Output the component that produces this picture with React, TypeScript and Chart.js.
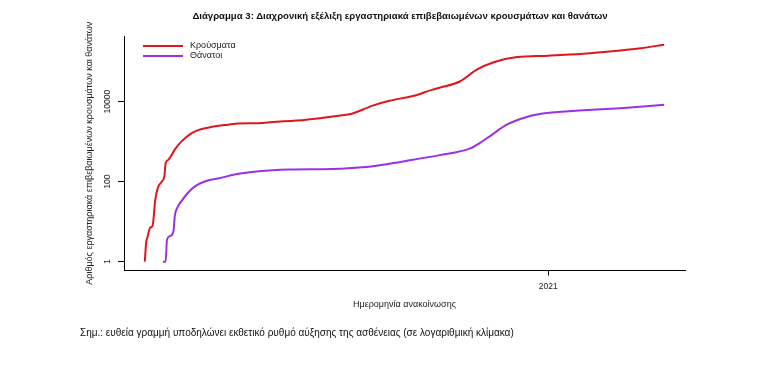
import React, { useEffect, useRef } from 'react';
import { Chart, registerables } from 'chart.js';

Chart.register(...registerables);

// Days counted from 2020-01-01 (day 0); 2021-01-01 = day 366
const caseDays = [56, 57, 58, 60, 62, 64, 66, 69, 71, 72, 74, 79, 84, 92, 98, 107, 120, 128, 143, 154, 180, 205, 215, 231, 244, 262, 277, 283, 298, 311, 324, 342, 366, 393, 419, 437, 455];
const caseValues = [1, 3, 4, 7, 8, 35, 70, 100, 135, 290, 350, 630, 1000, 1640, 2000, 2330, 2660, 2840, 2900, 3080, 3550, 4470, 5000, 7940, 10500, 13800, 19950, 22600, 31900, 63100, 97000, 130000, 141000, 158000, 188000, 217000, 266000];

const deathDays = [70, 72, 73, 75, 78, 79, 81.5, 85, 89, 94.5, 102, 114, 125, 143.5, 167, 200, 223, 239, 262, 282.5, 306, 313.5, 321, 334, 349.5, 365, 393, 421.5, 455];
const deathValues = [1, 1, 3.5, 4.3, 5.7, 13.6, 24, 35.5, 52, 76, 101, 123, 150, 181, 200, 207, 228, 266, 354, 460, 680, 930, 1360, 2660, 4150, 5190, 6060, 6880, 8370];

const seriesLabels = ['Κρούσματα', 'Θάνατοι'];
const yTickValues = [1, 100, 10000];
const yTickLabels = ['1', '100', '10000'];
const xTickValues = [366];
const xTickLabels = ['2021'];

const titleText = 'Διάγραμμα 3: Διαχρονική εξέλιξη εργαστηριακά επιβεβαιωμένων κρουσμάτων και θανάτων';
const xAxisTitle = 'Ημερομηνία ανακοίνωσης';
const yAxisTitle = 'Αριθμός εργαστηριακά επιβεβαιωμένων κρουσμάτων και θανάτων';
const noteText = 'Σημ.: ευθεία γραμμή υποδηλώνει εκθετικό ρυθμό αύξησης της ασθένειας (σε λογαριθμική κλίμακα)';

const RED = '#E0161C';
const PURPLE = '#9B30E6';
const CHART_FONT = '"Liberation Sans", Arial, sans-serif';

const overlayPlugin = {
  id: 'overlay',
  afterDraw(chart: any) {
    const ctx = chart.ctx;
    const ys = chart.scales.y;
    ctx.save();
    ctx.fillStyle = '#222';
    ctx.font = `8.5px ${CHART_FONT}`;
    ctx.textAlign = 'center';
    ctx.textBaseline = 'middle';
    yTickValues.forEach((v, i) => {
      const y = ys.getPixelForValue(v);
      ctx.save();
      ctx.translate(108, y);
      ctx.rotate(-Math.PI / 2);
      ctx.fillText(yTickLabels[i], 0, 0);
      ctx.restore();
    });
    // legend
    const rows = [46, 56];
    ctx.font = `9px ${CHART_FONT}`;
    ctx.textAlign = 'left';
    chart.data.datasets.forEach((d: any, i: number) => {
      ctx.strokeStyle = d.borderColor;
      ctx.lineWidth = 2;
      ctx.beginPath();
      ctx.moveTo(143, rows[i]);
      ctx.lineTo(183, rows[i]);
      ctx.stroke();
      ctx.fillStyle = '#222';
      ctx.fillText(d.label, 190, rows[i]);
    });
    ctx.restore();
  },
};

export default function App() {
  const canvasRef = useRef<HTMLCanvasElement | null>(null);

  useEffect(() => {
    if (!canvasRef.current) return;
    const chart = new Chart(canvasRef.current, {
      type: 'line',
      data: {
        datasets: [
          {
            label: seriesLabels[0],
            data: caseDays.map((d, i) => ({ x: d, y: caseValues[i] })),
            borderColor: RED,
            backgroundColor: RED,
            borderWidth: 2,
            pointRadius: 0,
            cubicInterpolationMode: 'monotone',
            fill: false,
          },
          {
            label: seriesLabels[1],
            data: deathDays.map((d, i) => ({ x: d, y: deathValues[i] })),
            borderColor: PURPLE,
            backgroundColor: PURPLE,
            borderWidth: 2,
            pointRadius: 0,
            cubicInterpolationMode: 'monotone',
            fill: false,
          },
        ],
      },
      options: {
        responsive: false,
        animation: false,
        devicePixelRatio: 1,
        layout: { padding: { top: 36, left: 0, right: 87, bottom: 0 } },
        plugins: {
          legend: { display: false },
          tooltip: { enabled: false },
          title: { display: false },
        },
        scales: {
          x: {
            type: 'linear',
            min: 40,
            max: 471,
            afterBuildTicks: (s: any) => {
              s.ticks = xTickValues.map((v) => ({ value: v }));
            },
            afterFit: (s: any) => {
              s.height = 101.5;
            },
            ticks: {
              autoSkip: false,
              maxRotation: 0,
              padding: 6,
              color: '#222',
              font: { family: CHART_FONT, size: 8.5 },
              callback: (v: any) => {
                const idx = xTickValues.indexOf(Number(v));
                return idx >= 0 ? xTickLabels[idx] : '';
              },
            },
            grid: {
              display: true,
              drawOnChartArea: false,
              drawTicks: true,
              tickLength: 5,
              color: '#000',
              lineWidth: 1,
            },
            border: { display: true, color: '#000', width: 1 },
            title: {
              display: true,
              text: xAxisTitle,
              color: '#222',
              font: { family: CHART_FONT, size: 9 },
              padding: { top: 0, bottom: 62 },
            },
          },
          y: {
            type: 'logarithmic',
            min: 0.607,
            max: 438000,
            afterBuildTicks: (s: any) => {
              s.ticks = yTickValues.map((v) => ({ value: v }));
            },
            afterFit: (s: any) => {
              s.width = 124;
            },
            ticks: { display: false },
            grid: {
              display: true,
              drawOnChartArea: false,
              drawTicks: true,
              tickLength: 6,
              color: '#000',
              lineWidth: 1,
            },
            border: { display: true, color: '#000', width: 1 },
            title: {
              display: true,
              text: yAxisTitle,
              color: '#222',
              font: { family: CHART_FONT, size: 9 },
              padding: { top: 84, bottom: 0 },
            },
          },
        },
      },
      plugins: [overlayPlugin],
    } as any);
    return () => chart.destroy();
  }, []);

  return (
    <div
      style={{
        position: 'absolute',
        left: 0,
        top: 0,
        width: 772,
        height: 372,
        overflow: 'hidden',
        background: '#fff',
      }}
    >
      <canvas
        ref={canvasRef}
        width={772}
        height={372}
        style={{ position: 'absolute', left: 0, top: 0, width: 772, height: 372 }}
      />
      <div
        style={{
          position: 'absolute',
          left: 100,
          top: 10,
          width: 600,
          textAlign: 'center',
          fontFamily: CHART_FONT,
          fontWeight: 'bold',
          fontSize: 9.6,
          color: '#111',
          whiteSpace: 'nowrap',
        }}
      >
        {titleText}
      </div>
      <div
        style={{
          position: 'absolute',
          left: 80,
          top: 327,
          fontFamily: CHART_FONT,
          fontSize: 10,
          color: '#111',
          whiteSpace: 'nowrap',
        }}
      >
        {noteText}
      </div>
    </div>
  );
}
